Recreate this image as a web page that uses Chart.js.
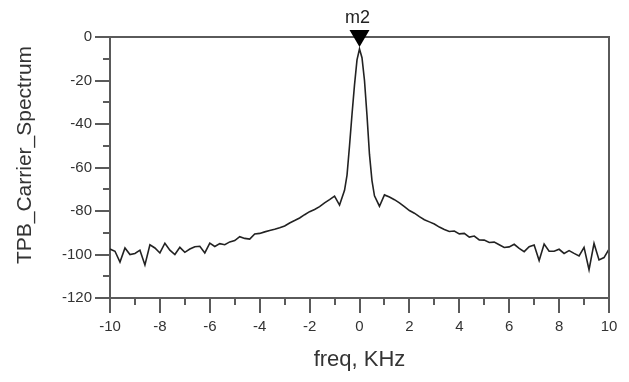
<!DOCTYPE html>
<html><head><meta charset="utf-8">
<script src="https://cdn.jsdelivr.net/npm/chart.js@4/dist/chart.umd.min.js"></script>
<style>html,body{margin:0;padding:0;background:#fff;overflow:hidden}</style>
</head><body>
<canvas id="c" width="629" height="382"></canvas>
<script>
// ---- data ----
const freqKHz = [
  -10.0,-9.8,-9.6,-9.4,-9.2,-9.0,-8.8,-8.6,-8.4,-8.2,
  -8.0,-7.8,-7.6,-7.4,-7.2,-7.0,-6.8,-6.6,-6.4,-6.2,
  -6.0,-5.8,-5.6,-5.4,-5.2,-5.0,-4.8,-4.6,-4.4,-4.2,
  -4.0,-3.8,-3.6,-3.4,-3.2,-3.0,-2.8,-2.6,-2.4,-2.2,
  -2.0,-1.8,-1.6,-1.4,-1.2,-1.0,-0.8,-0.6,-0.5,-0.4,
  -0.3,-0.2,-0.1,0.0,0.1,0.2,0.3,0.4,0.5,0.6,
  0.8,1.0,1.2,1.4,1.6,1.8,2.0,2.2,2.4,2.6,
  2.8,3.0,3.2,3.4,3.6,3.8,4.0,4.2,4.4,4.6,
  4.8,5.0,5.2,5.4,5.6,5.8,6.0,6.2,6.4,6.6,
  6.8,7.0,7.2,7.4,7.6,7.8,8.0,8.2,8.4,8.6,
  8.8,9.0,9.2,9.4,9.6,9.8,10.0
];
const spectrumDb = [
  -97.5,-98.5,-103.5,-97,-100,-99.5,-98,-104.8,-95.5,-97,
  -99.3,-94.8,-98,-100,-96.7,-99,-97.5,-96.4,-96.2,-99.3,
  -94.8,-96.3,-95,-95.5,-94.2,-93.6,-91.8,-92.6,-92.9,-90.6,
  -90.3,-89.6,-89,-88.4,-87.7,-86.9,-85.5,-84.4,-83.2,-81.7,
  -80.3,-79.3,-78,-76.3,-74.8,-73.2,-77.3,-70.5,-63.5,-50,
  -35.5,-22,-10.5,-5.5,-9.5,-20,-36,-54,-66,-73,
  -77.8,-72.6,-73.6,-74.8,-76.3,-78,-79.8,-81,-82.6,-84,
  -85,-86,-87.4,-88.5,-89.4,-89.2,-90.5,-90.3,-92,-91.5,
  -93.3,-93.4,-94.5,-94.3,-95.5,-96.8,-96.5,-95.3,-97.2,-98.7,
  -96.4,-95.6,-102.8,-95.2,-98.5,-98.5,-97.6,-99.5,-98.2,-99.5,
  -100.7,-96.7,-107,-94.9,-102.5,-101.4,-97.6
];
const xTickValues = [-10,-8,-6,-4,-2,0,2,4,6,8,10];
const xMinorTickValues = [-9,-7,-5,-3,-1,1,3,5,7,9];
const yTickValues = [0,-20,-40,-60,-80,-100,-120];
const yMinorTickValues = [-10,-30,-50,-70,-90,-110];
const markerName = 'm2';
const markerFreq = 0.0;
const xTitle = 'freq, KHz';
const yTitle = 'TPB_Carrier_Spectrum';

const FONT = '"Liberation Sans", Arial, sans-serif';
const AXIS = '#5a5a5a';

const framePlugin = {
  id: 'frame',
  afterDraw(chart) {
    const ctx = chart.ctx, a = chart.chartArea;
    const xs = chart.scales.x, ys = chart.scales.y;
    ctx.save();
    ctx.strokeStyle = AXIS;
    ctx.lineWidth = 2;
    // top and right frame lines
    ctx.beginPath();
    ctx.moveTo(a.left, a.top); ctx.lineTo(a.right, a.top); ctx.lineTo(a.right, a.bottom);
    ctx.stroke();
    // minor ticks
    ctx.beginPath();
    xMinorTickValues.forEach(v => {
      const px = Math.round(xs.getPixelForValue(v));
      ctx.moveTo(px, a.bottom); ctx.lineTo(px, a.bottom + 7);
    });
    yMinorTickValues.forEach(v => {
      const py = Math.round(ys.getPixelForValue(v));
      ctx.moveTo(a.left, py); ctx.lineTo(a.left - 7, py);
    });
    ctx.stroke();
    // marker
    const idx = freqKHz.indexOf(markerFreq);
    const mx = xs.getPixelForValue(markerFreq);
    const my = ys.getPixelForValue(spectrumDb[idx]);
    ctx.fillStyle = '#000';
    ctx.beginPath();
    ctx.moveTo(mx, my - 2);
    ctx.lineTo(mx - 10, my - 19);
    ctx.lineTo(mx + 10, my - 19);
    ctx.closePath();
    ctx.fill();
    ctx.fillStyle = '#222';
    ctx.font = '18px ' + FONT;
    ctx.textAlign = 'center';
    ctx.textBaseline = 'middle';
    ctx.fillText(markerName, mx - 2, my - 31);
    // y axis title
    ctx.save();
    ctx.translate(25, 155);
    ctx.rotate(-Math.PI / 2);
    ctx.font = '21px ' + FONT;
    ctx.fillStyle = '#333';
    ctx.fillText(yTitle, 0, 0);
    ctx.restore();
    ctx.restore();
  }
};

new Chart(document.getElementById('c'), {
  type: 'line',
  data: {
    datasets: [{
      data: freqKHz.map((f, i) => ({ x: f, y: spectrumDb[i] })),
      borderColor: '#222222',
      borderWidth: 1.6,
      pointRadius: 0,
      tension: 0,
      fill: false
    }]
  },
  options: {
    responsive: false,
    devicePixelRatio: 1,
    animation: false,
    layout: { padding: { top: 37, right: 20, left: 0, bottom: 0 } },
    plugins: { legend: { display: false }, tooltip: { enabled: false } },
    scales: {
      x: {
        type: 'linear', min: -10, max: 10,
        afterFit(s) { s.height = 84; },
        afterBuildTicks(s) { s.ticks = xTickValues.map(v => ({ value: v })); },
        ticks: { color: '#333', font: { family: FONT, size: 15 }, padding: 5, maxRotation: 0, autoSkip: false },
        grid: { drawOnChartArea: false, drawTicks: true, tickLength: 15, color: AXIS, lineWidth: 2 },
        border: { display: true, color: AXIS, width: 2 },
        title: { display: true, text: xTitle, color: '#333', font: { family: FONT, size: 22 }, padding: 9 }
      },
      y: {
        type: 'linear', min: -120, max: 0,
        afterFit(s) { s.width = 110; },
        afterBuildTicks(s) { s.ticks = yTickValues.map(v => ({ value: v })); },
        ticks: { color: '#333', font: { family: FONT, size: 15 }, padding: 3, autoSkip: false },
        grid: { drawOnChartArea: false, drawTicks: true, tickLength: 15, color: AXIS, lineWidth: 2 },
        border: { display: true, color: AXIS, width: 2 }
      }
    }
  },
  plugins: [framePlugin]
});
</script>
</body></html>
